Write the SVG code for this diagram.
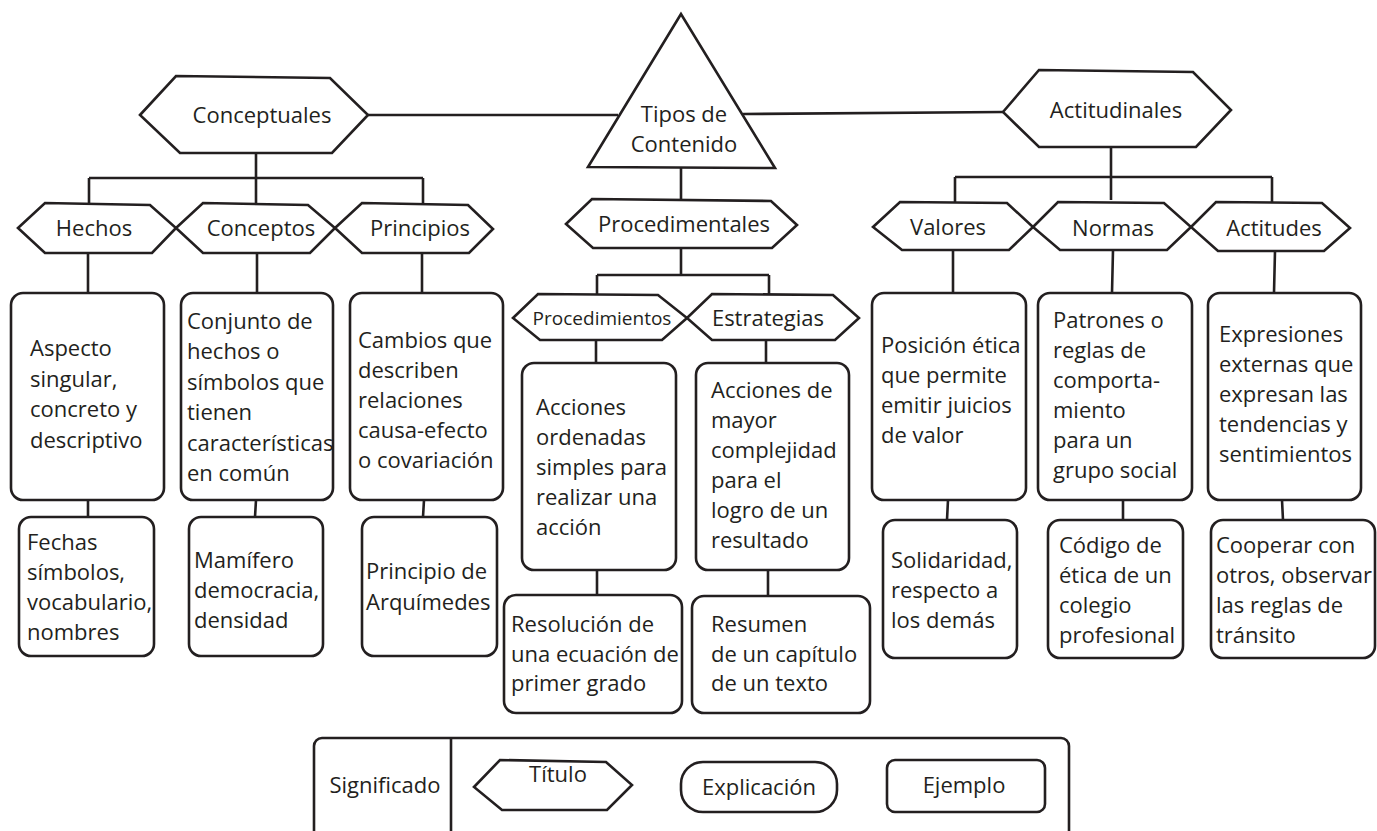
<svg xmlns="http://www.w3.org/2000/svg" width="1377" height="831" viewBox="0 0 1377 831">
<style>
.s{fill:#fff;stroke:#231f20;stroke-width:2.6;stroke-linejoin:miter}
.b{fill:#fff;stroke:#231f20;stroke-width:2.6}
.c{fill:none;stroke:#231f20;stroke-width:2.6}
text{font-family:"Open Sans","Noto Sans","Liberation Sans",sans-serif;fill:#231f20;font-size:22px}
.m{text-anchor:middle}
.sm{font-size:19px}
</style>
<rect width="1377" height="831" fill="#fff"/>
<g id="connectors">
<path class="c" d="M368 115H618M743 114L1003 112"/>
<path class="c" d="M681 168V199M681 248V275M597 275H769M597 275V294M769 275V295"/>
<path class="c" d="M596 340V363M766 340V363M597 570V595M768 570V596"/>
<path class="c" d="M256 153V178M89 178H423M89 178V203M256 178V203M423 178V204"/>
<path class="c" d="M88 253V293M257 253V293M422 253V293M88 500V517M256 500L255 517M424 500L423 517"/>
<path class="c" d="M1111 147V177M955 177H1272M955 177V202M1111 177V200M1272 177V202"/>
<path class="c" d="M953 250V293M1113 250L1112 293M1275 251L1274 293M948 500L947 520M1123 500V520M1282 500L1283 520"/>
</g>
<g id="tipos">
<polygon class="s" points="681,14 588,167 775,168"/>
<text class="m" x="684" y="122">Tipos de</text>
<text class="m" x="684" y="152">Contenido</text>
</g>
<g id="conceptuales">
<polygon class="s" points="140,115 176,76 330,78 368,115 332,153 180,153"/>
<text class="m" x="262" y="123">Conceptuales</text>
</g>
<g id="actitudinales">
<polygon class="s" points="1003,112 1039,70 1193,72 1231,110 1196,147 1039,147"/>
<text class="m" x="1116" y="118">Actitudinales</text>
</g>
<g id="procedimentales">
<polygon class="s" points="566,224 592,199 771,201 797,225 772,248 593,248"/>
<text class="m" x="684" y="232">Procedimentales</text>
</g>
<g id="hechos">
<polygon class="s" points="18,228 45,203 150,205 176,228 152,253 45,253"/>
<text class="m" x="94" y="236">Hechos</text>
</g>
<g id="conceptos">
<polygon class="s" points="176,228 203,203 308,205 335,228 310,253 203,253"/>
<text class="m" x="261" y="236">Conceptos</text>
</g>
<g id="principios">
<polygon class="s" points="335,228 362,203 468,205 493,229 469,253 362,253"/>
<text class="m" x="420" y="236">Principios</text>
</g>
<g id="procedimientos">
<polygon class="s" points="513,318 538,294 658,295 687,318 662,340 540,340"/>
<text class="m sm" x="602" y="325">Procedimientos</text>
</g>
<g id="estrategias">
<polygon class="s" points="687,318 712,294 833,295 859,318 835,340 712,340"/>
<text class="m" x="768" y="326">Estrategias</text>
</g>
<g id="valores">
<polygon class="s" points="873,227 900,202 1007,203 1033,227 1009,250 902,250"/>
<text class="m" x="948" y="235">Valores</text>
</g>
<g id="normas">
<polygon class="s" points="1033,227 1058,202 1164,203 1191,227 1167,250 1060,250"/>
<text class="m" x="1113" y="236">Normas</text>
</g>
<g id="actitudes">
<polygon class="s" points="1191,227 1216,202 1322,203 1350,228 1324,251 1218,251"/>
<text class="m" x="1274" y="236">Actitudes</text>
</g>
<g id="exp-hechos">
<rect class="b" x="11" y="293" width="153" height="207" rx="12"/>
<text x="30" y="356"><tspan x="30">Aspecto</tspan><tspan x="30" dy="30.5">singular,</tspan><tspan x="30" dy="30.5">concreto y</tspan><tspan x="30" dy="30.5">descriptivo</tspan></text>
</g>
<g id="exp-conceptos">
<rect class="b" x="181" y="293" width="152" height="207" rx="12"/>
<text x="187" y="329"><tspan x="187">Conjunto de</tspan><tspan x="187" dy="30.4">hechos o</tspan><tspan x="187" dy="30.4">símbolos que</tspan><tspan x="187" dy="30.4">tienen</tspan><tspan x="187" dy="30.4">características</tspan><tspan x="187" dy="30.4">en común</tspan></text>
</g>
<g id="exp-principios">
<rect class="b" x="350" y="293" width="153" height="207" rx="12"/>
<text x="358" y="348"><tspan x="358">Cambios que</tspan><tspan x="358" dy="30">describen</tspan><tspan x="358" dy="30">relaciones</tspan><tspan x="358" dy="30">causa-efecto</tspan><tspan x="358" dy="30">o covariación</tspan></text>
</g>
<g id="ej-hechos">
<rect class="b" x="19" y="517" width="135" height="139" rx="12"/>
<text x="27" y="550"><tspan x="27">Fechas</tspan><tspan x="27" dy="30">símbolos,</tspan><tspan x="27" dy="30">vocabulario,</tspan><tspan x="27" dy="30">nombres</tspan></text>
</g>
<g id="ej-conceptos">
<rect class="b" x="189" y="517" width="134" height="139" rx="12"/>
<text x="194" y="568"><tspan x="194">Mamífero</tspan><tspan x="194" dy="30">democracia,</tspan><tspan x="194" dy="30">densidad</tspan></text>
</g>
<g id="ej-principios">
<rect class="b" x="362" y="517" width="135" height="139" rx="12"/>
<text x="366" y="579"><tspan x="366">Principio de</tspan><tspan x="366" dy="31">Arquímedes</tspan></text>
</g>
<g id="exp-procedimientos">
<rect class="b" x="522" y="363" width="154" height="207" rx="12"/>
<text x="536" y="415"><tspan x="536">Acciones</tspan><tspan x="536" dy="30">ordenadas</tspan><tspan x="536" dy="30">simples para</tspan><tspan x="536" dy="30">realizar una</tspan><tspan x="536" dy="30">acción</tspan></text>
</g>
<g id="exp-estrategias">
<rect class="b" x="696" y="363" width="153" height="207" rx="12"/>
<text x="711" y="398"><tspan x="711">Acciones de</tspan><tspan x="711" dy="30">mayor</tspan><tspan x="711" dy="30">complejidad</tspan><tspan x="711" dy="30">para el</tspan><tspan x="711" dy="30">logro de un</tspan><tspan x="711" dy="30">resultado</tspan></text>
</g>
<g id="ej-procedimientos">
<rect class="b" x="504" y="595" width="178" height="118" rx="12"/>
<text x="511" y="632"><tspan x="511">Resolución de</tspan><tspan x="511" dy="29.5">una ecuación de</tspan><tspan x="511" dy="29.5">primer grado</tspan></text>
</g>
<g id="ej-estrategias">
<rect class="b" x="692" y="596" width="178" height="117" rx="12"/>
<text x="711" y="632"><tspan x="711">Resumen</tspan><tspan x="711" dy="29.5">de un capítulo</tspan><tspan x="711" dy="29.5">de un texto</tspan></text>
</g>
<g id="exp-valores">
<rect class="b" x="872" y="293" width="154" height="207" rx="12"/>
<text x="881" y="353"><tspan x="881">Posición ética</tspan><tspan x="881" dy="30">que permite</tspan><tspan x="881" dy="30">emitir juicios</tspan><tspan x="881" dy="30">de valor</tspan></text>
</g>
<g id="exp-normas">
<rect class="b" x="1038" y="293" width="154" height="207" rx="12"/>
<text x="1053" y="328"><tspan x="1053">Patrones o</tspan><tspan x="1053" dy="30">reglas de</tspan><tspan x="1053" dy="30">comporta-</tspan><tspan x="1053" dy="30">miento</tspan><tspan x="1053" dy="30">para un</tspan><tspan x="1053" dy="30">grupo social</tspan></text>
</g>
<g id="exp-actitudes">
<rect class="b" x="1208" y="293" width="153" height="207" rx="12"/>
<text x="1219" y="342"><tspan x="1219">Expresiones</tspan><tspan x="1219" dy="30">externas que</tspan><tspan x="1219" dy="30">expresan las</tspan><tspan x="1219" dy="30">tendencias y</tspan><tspan x="1219" dy="30">sentimientos</tspan></text>
</g>
<g id="ej-valores">
<rect class="b" x="883" y="520" width="134" height="138" rx="12"/>
<text x="891" y="568"><tspan x="891">Solidaridad,</tspan><tspan x="891" dy="30">respecto a</tspan><tspan x="891" dy="30">los demás</tspan></text>
</g>
<g id="ej-normas">
<rect class="b" x="1048" y="520" width="135" height="138" rx="12"/>
<text x="1059" y="553"><tspan x="1059">Código de</tspan><tspan x="1059" dy="30">ética de un</tspan><tspan x="1059" dy="30">colegio</tspan><tspan x="1059" dy="30">profesional</tspan></text>
</g>
<g id="ej-actitudes">
<rect class="b" x="1211" y="520" width="164" height="138" rx="12"/>
<text x="1216" y="553"><tspan x="1216">Cooperar con</tspan><tspan x="1216" dy="30">otros, observar</tspan><tspan x="1216" dy="30">las reglas de</tspan><tspan x="1216" dy="30">tránsito</tspan></text>
</g>
<g id="leyenda">
<rect class="b" x="314" y="738" width="755" height="110" rx="8"/>
<path class="c" d="M451 738V831"/>
<text class="m" x="385" y="793">Significado</text>
<polygon class="s" points="474,787 500,760 606,762 632,785 607,810 502,810"/>
<text class="m" x="558" y="782">Título</text>
<rect class="b" x="681" y="762" width="156" height="50" rx="22"/>
<text class="m" x="759" y="795">Explicación</text>
<rect class="b" x="887" y="760" width="158" height="52" rx="8"/>
<text class="m" x="964" y="793">Ejemplo</text>
</g>
</svg>
